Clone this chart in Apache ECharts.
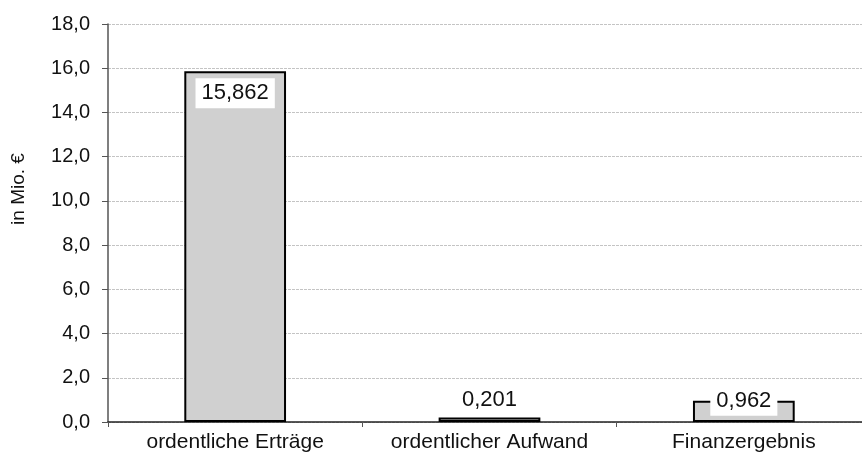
<!DOCTYPE html>
<html>
<head>
<meta charset="utf-8">
<script src="https://cdn.jsdelivr.net/npm/echarts@6/dist/echarts.min.js"></script>
<style>
  html, body { margin: 0; padding: 0; background: #fff; overflow: hidden; }
  /* canvas is a few pixels wider than the window; the plot runs off the right edge */
  #chart { width: 871px; height: 456px; }
</style>
</head>
<body>
<div id="chart"></div>
<script>
// Ergebnisrechnung – Beträge in Mio. €
const categories = ['ordentliche Erträge', 'ordentlicher Aufwand', 'Finanzergebnis'];
const values = [15.862, 0.201, 0.962];
const yTicks = { min: 0, max: 18, interval: 2 };

const deComma = (v, d) => v.toFixed(d).replace('.', ',');
const FONT = '"Liberation Sans", Arial, sans-serif';

// label placement per bar: tall bar gets its label inside, short bars above
const labelPlacement = [
  { position: 'insideTop', distance: 7 },
  { position: 'top', distance: 3 },
  { position: 'top', distance: -15 }
];

const chart = echarts.init(document.getElementById('chart'), null, { renderer: 'canvas' });

chart.setOption({
  animation: false,
  backgroundColor: '#ffffff',
  grid: { left: 108, right: 0, top: 24, bottom: 34, containLabel: false },
  xAxis: {
    type: 'category',
    data: categories,
    axisLine: { lineStyle: { color: '#222', width: 1.5 } },
    axisTick: { show: true, length: 5, lineStyle: { color: '#555' } },
    axisLabel: { color: '#111', fontFamily: FONT, fontSize: 21, margin: 10, interval: 0 }
  },
  yAxis: {
    type: 'value',
    min: yTicks.min,
    max: yTicks.max,
    interval: yTicks.interval,
    name: 'in Mio. €',
    nameLocation: 'middle',
    nameGap: 80,
    nameTextStyle: { color: '#111', fontFamily: FONT, fontSize: 19, padding: [0, 0, 0, 68] },
    axisLine: { show: true, lineStyle: { color: '#555', width: 1.5 } },
    axisTick: { show: true, length: 6, lineStyle: { color: '#555' } },
    axisLabel: {
      color: '#111', fontFamily: FONT, fontSize: 20, margin: 18,
      formatter: v => deComma(v, 1)
    },
    splitLine: { show: true, lineStyle: { color: '#c4c4c4', width: 1, type: [3, 1] } }
  },
  series: [{
    type: 'bar',
    barWidth: '40%',
    data: values.map((v, i) => ({
      value: v,
      label: labelPlacement[i]
    })),
    itemStyle: { color: '#d0d0d0', borderColor: '#000', borderWidth: 2 },
    label: {
      show: true,
      color: '#111',
      fontFamily: FONT,
      fontSize: 22,
      backgroundColor: '#fff',
      padding: [4, 6],
      formatter: p => deComma(p.value, 3)
    }
  }]
});
</script>
</body>
</html>
